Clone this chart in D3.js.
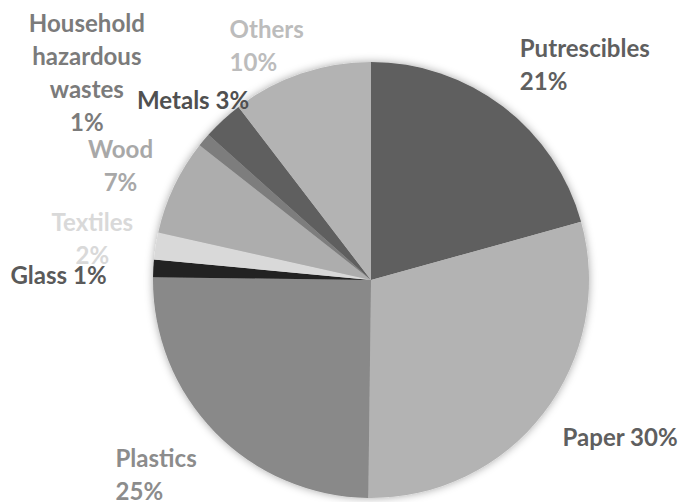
<!DOCTYPE html>
<html>
<head>
<meta charset="utf-8">
<script src="https://cdn.jsdelivr.net/npm/d3@7/dist/d3.min.js"></script>
<style>
  html, body { margin: 0; padding: 0; background: #fff; }
  svg { display: block; }
</style>
</head>
<body>
<div id="chart"></div>
<script>
let width = 679
let height = 502

// -- data (percent)
let categories = ['Putrescibles', 'Paper', 'Plastics', 'Glass', 'Textiles', 'Wood', 'Household hazardous wastes', 'Metals', 'Others']
let values = [20.7, 29.5, 25.0, 1.3, 2.0, 7.1, 1.0, 3.0, 10.4]
let labelLines = [
  ['Putrescibles', '{p}'],
  ['Paper {p}'],
  ['Plastics', '{p}'],
  ['Glass {p}'],
  ['Textiles', '{p}'],
  ['Wood', '{p}'],
  ['Household', 'hazardous', 'wastes', '{p}'],
  ['Metals {p}'],
  ['Others', '{p}']
]

// -- styles
let sliceColors = ['#5e5e5e', '#b3b3b3', '#898989', '#232323', '#d9d9d9', '#adadad', '#7d7d7d', '#5f5f5f', '#b3b3b3']
let labelColors = ['#5f5f5f', '#5f5f5f', '#8c8c8c', '#5a5a5a', '#d9d9d9', '#a8a8a8', '#7b7b7b', '#505050', '#bcbcbc']
// anchor + nudge from the label arc point
let labelAnchor = ['start', 'start', 'start', 'end', 'middle', 'middle', 'middle', 'middle', 'start']
let labelNudge = [[-3, -15], [-7, 5], [-76, 20], [-14, 9], [-31, -2], [-24, -6], [-92, -46], [-7.5, 4], [-61, 3.5]]

let cx = 371, cy = 280, radius = 218
let lineHeight = 33

let svg = d3.select('#chart').append('svg')
  .attr('width', width)
  .attr('height', height)

let defs = svg.append('defs')
let shadow = defs.append('filter').attr('id', 'shadow')
  .attr('x', '-20%').attr('y', '-20%').attr('width', '140%').attr('height', '140%')
shadow.append('feDropShadow')
  .attr('dx', 0).attr('dy', 0)
  .attr('stdDeviation', 4)
  .attr('flood-color', '#000')
  .attr('flood-opacity', 0.35)

let pie = d3.pie().sort(null).value(d => d)
let arcs = pie(values)

let arc = d3.arc().innerRadius(0).outerRadius(radius)
let labelArc = d3.arc().innerRadius(radius * 1.15).outerRadius(radius * 1.15)

let g = svg.append('g').attr('transform', `translate(${cx}, ${cy})`)

g.append('g').attr('filter', 'url(#shadow)')
  .selectAll('path')
  .data(arcs)
  .enter()
  .append('path')
  .attr('d', arc)
  .style('fill', (d, i) => sliceColors[i])

// -- fit font size so "Household" is about 116px wide (Calibri-like metrics)
let family = 'Lato, "Open Sans", sans-serif'
let probe = svg.append('text').style('font-family', family).style('font-weight', 'bold')
  .style('font-size', '20px').text('Household')
let fontSize = 20 * 116 / probe.node().getComputedTextLength()
probe.remove()

let total = d3.sum(values)

let labels = g.append('g')
  .selectAll('text')
  .data(arcs)
  .enter()
  .append('text')
  .attr('text-anchor', (d, i) => labelAnchor[i])
  .style('font-family', family)
  .style('font-weight', 'bold')
  .style('font-size', fontSize + 'px')
  .style('fill', (d, i) => labelColors[i])
  .attr('transform', (d, i) => {
    let a = (d.startAngle + d.endAngle) / 2
    let R = radius * 1.15
    let x = R * Math.sin(a) + labelNudge[i][0]
    let y = -R * Math.cos(a) + labelNudge[i][1]
    return `translate(${x}, ${y})`
  })

labels.each(function(d, i) {
  let lines = labelLines[i]
  let pct = Math.round(d.data / total * 100) + '%'
  let n = lines.length
  d3.select(this).selectAll('tspan')
    .data(lines)
    .enter()
    .append('tspan')
    .attr('x', 0)
    .attr('y', (t, j) => (j - (n - 1) / 2) * lineHeight)
    .attr('dy', '0.35em')
    .text(t => t.replace('{p}', pct))
})
</script>
</body>
</html>
